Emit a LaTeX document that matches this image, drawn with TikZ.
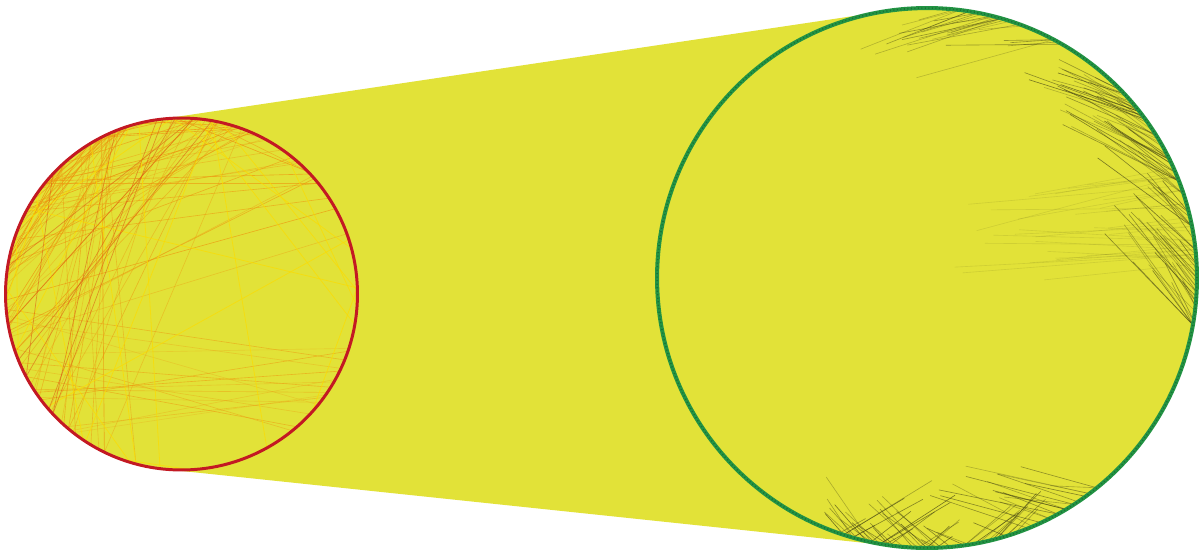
\documentclass[tikz,border=0pt]{standalone}
\usetikzlibrary{calc}
\definecolor{yel}{RGB}{226,226,56}
\definecolor{redline}{RGB}{195,25,35}
\definecolor{greenline}{RGB}{35,148,68}
\definecolor{darkgreen}{RGB}{20,85,40}
\definecolor{orangeL}{RGB}{238,150,15}
\definecolor{redorange}{RGB}{222,95,20}
\definecolor{brightyel}{RGB}{252,220,0}
\definecolor{olive}{RGB}{70,70,20}
\tikzset{
  disc/.style={circle, inner sep=0pt, outer sep=0pt, fill=yel},
  chordL/.style={line width=0.35pt, color=orangeL},
  chordR/.style={line width=0.35pt, color=olive},
}
\begin{document}
\begin{tikzpicture}[x=0.02cm,y=-0.02cm]
\useasboundingbox (0,0) rectangle (1203,551);
\fill[white] (0,0) rectangle (1203,551);
\node[disc, minimum size=7.04cm] (L) at (181.5,294) {};
\node[disc, minimum size=10.8cm] (R) at (927,278) {};
\fill[yel] (L.98) -- (R.98) -- (R.264) -- (L.264) -- cycle;
\pgfmathsetseed{11}
% left circle chords
\foreach \i in {1,...,32}{
  \pgfmathtruncatemacro\a{70+70*rnd}
  \pgfmathtruncatemacro\b{170+90*rnd}
  \pgfmathsetmacro\o{0.3+0.5*rnd}
  \draw[chordL, opacity=\o] (L.\a) -- (L.\b);
}
\foreach \i in {1,...,22}{
  \pgfmathtruncatemacro\a{140+60*rnd}
  \pgfmathtruncatemacro\b{20+60*rnd}
  \pgfmathsetmacro\o{0.3+0.5*rnd}
  \draw[chordL, opacity=\o] (L.\a) -- (L.\b);
}
\foreach \i in {1,...,22}{
  \pgfmathtruncatemacro\a{40+100*rnd}
  \pgfmathtruncatemacro\b{\a+20+40*rnd}
  \pgfmathsetmacro\o{0.4+0.5*rnd}
  \draw[chordL, opacity=\o] (L.\a) -- (L.\b);
}
\foreach \i in {1,...,16}{
  \pgfmathtruncatemacro\a{185+50*rnd}
  \pgfmathtruncatemacro\b{305+45*rnd}
  \pgfmathsetmacro\o{0.25+0.35*rnd}
  \draw[chordL, opacity=\o] (L.\a) -- (L.\b);
}
\foreach \i in {1,...,20}{
  \pgfmathtruncatemacro\a{360*rnd}
  \pgfmathtruncatemacro\b{360*rnd}
  \draw[line width=0.45pt, brightyel, opacity=0.7] (L.\a) -- (L.\b);
}
\foreach \i in {1,...,8}{
  \pgfmathtruncatemacro\a{80+60*rnd}
  \pgfmathtruncatemacro\b{170+70*rnd}
  \draw[line width=0.4pt, redorange, opacity=0.6] (L.\a) -- (L.\b);
}
% right circle: partial chords fading from the rim
\foreach \i in {1,...,25}{% top
  \pgfmathtruncatemacro\a{60+25*rnd}
  \pgfmathtruncatemacro\b{120+30*rnd}
  \pgfmathsetmacro\f{0.15+0.3*rnd}
  \pgfmathsetmacro\o{0.2+0.3*rnd}
  \draw[chordR, opacity=\o] (R.\a) -- ($(R.\a)!\f!(R.\b)$);
}
\foreach \i in {1,...,45}{% upper right
  \pgfmathtruncatemacro\a{18+27*rnd}
  \pgfmathtruncatemacro\b{75+35*rnd}
  \pgfmathsetmacro\f{0.15+0.3*rnd}
  \pgfmathsetmacro\o{0.3+0.4*rnd}
  \draw[chordR, opacity=\o] (R.\a) -- ($(R.\a)!\f!(R.\b)$);
}
\foreach \i in {1,...,35}{% right middle
  \pgfmathtruncatemacro\a{350+25*rnd}
  \pgfmathtruncatemacro\aa{mod(\a,360)}
  \pgfmathtruncatemacro\b{60+40*rnd}
  \pgfmathsetmacro\f{0.08+0.25*rnd}
  \pgfmathsetmacro\o{0.3+0.4*rnd}
  \draw[chordR, opacity=\o] (R.\aa) -- ($(R.\aa)!\f!(R.\b)$);
}
\foreach \i in {1,...,30}{% faint horizontal streaks
  \pgfmathtruncatemacro\a{360+25*rnd}
  \pgfmathtruncatemacro\aa{mod(\a,360)}
  \pgfmathtruncatemacro\b{165+25*rnd}
  \pgfmathsetmacro\f{0.15+0.3*rnd}
  \draw[chordR, opacity=0.12] (R.\aa) -- ($(R.\aa)!\f!(R.\b)$);
}
\foreach \i in {1,...,25}{% bottom, up-left
  \pgfmathtruncatemacro\a{250+40*rnd}
  \pgfmathtruncatemacro\b{170+50*rnd}
  \pgfmathsetmacro\f{0.06+0.16*rnd}
  \pgfmathsetmacro\o{0.35+0.4*rnd}
  \draw[chordR, opacity=\o] (R.\a) -- ($(R.\a)!\f!(R.\b)$);
}
\foreach \i in {1,...,25}{% bottom, up-right
  \pgfmathtruncatemacro\a{250+40*rnd}
  \pgfmathtruncatemacro\b{330+30*rnd}
  \pgfmathsetmacro\f{0.06+0.2*rnd}
  \pgfmathsetmacro\o{0.35+0.4*rnd}
  \draw[chordR, opacity=\o] (R.\a) -- ($(R.\a)!\f!(R.\b)$);
}
\foreach \i in {1,...,18}{% bottom right
  \pgfmathtruncatemacro\a{290+22*rnd}
  \pgfmathtruncatemacro\b{190+40*rnd}
  \pgfmathsetmacro\f{0.1+0.25*rnd}
  \pgfmathsetmacro\o{0.3+0.4*rnd}
  \draw[chordR, opacity=\o] (R.\a) -- ($(R.\a)!\f!(R.\b)$);
}
% outlines
\draw[redline, line width=1.7pt] (L.center) circle[radius=3.52cm];
\draw[greenline, line width=2.3pt] (R.center) circle[radius=5.4cm];
\draw[darkgreen, line width=0.9pt, opacity=0.55, dash pattern=on 0.6pt off 1.4pt] (R.center) circle[radius=5.4cm];
\end{tikzpicture}
\end{document}
